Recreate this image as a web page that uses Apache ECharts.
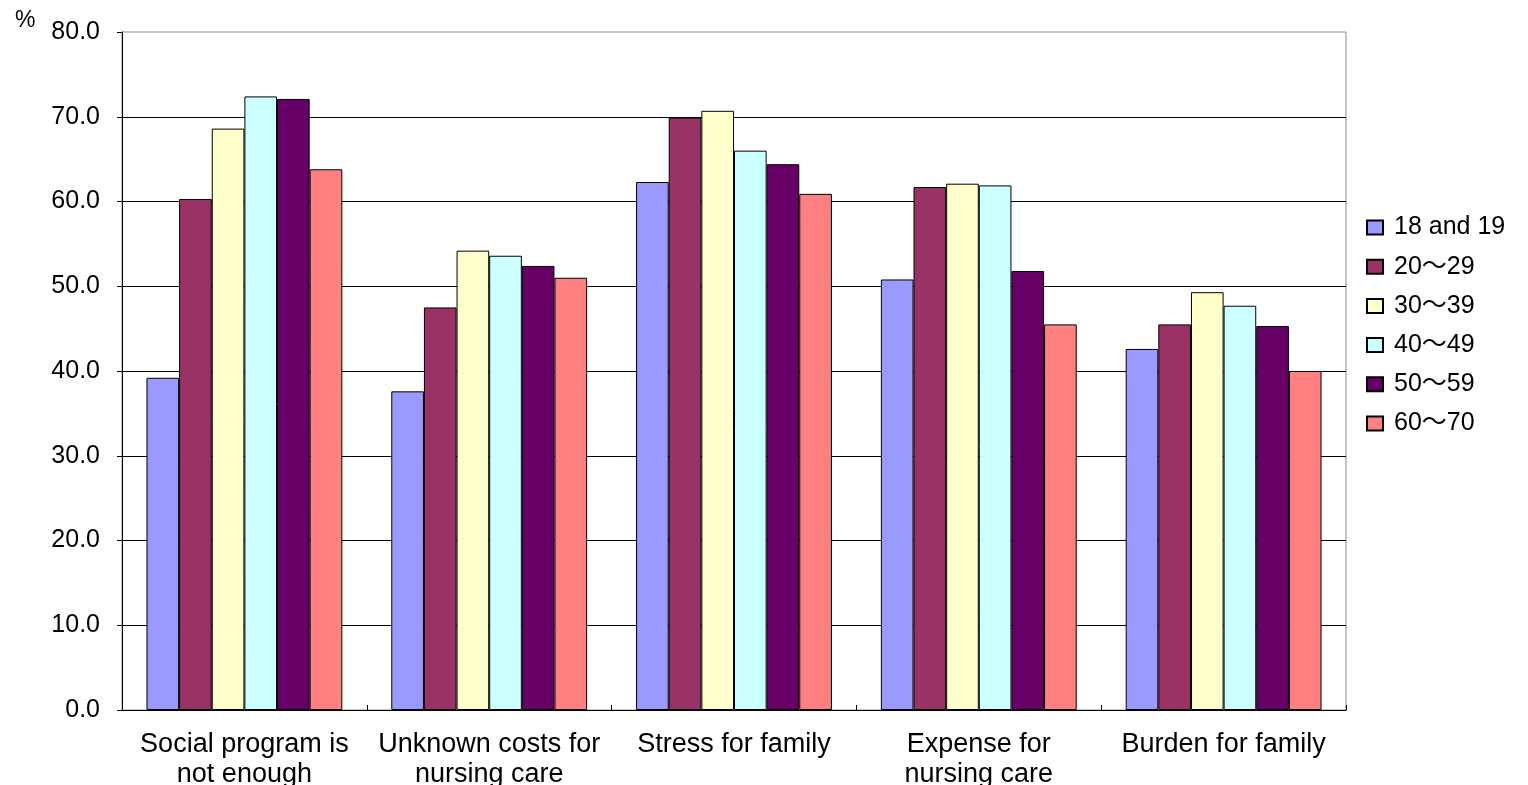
<!DOCTYPE html>
<html>
<head>
<meta charset="utf-8">
<title>Concerns about nursing care by age group</title>
<script src="https://cdn.jsdelivr.net/npm/echarts@6/dist/echarts.min.js"></script>
<style>
  html, body { margin: 0; padding: 0; background: #fff; }
  #chart { width: 1528px; height: 785px; }
</style>
</head>
<body>
<div id="chart"></div>
<script>
// Categories along the x axis
const categories = [
  'Social program is\nnot enough',
  'Unknown costs for\nnursing care',
  'Stress for family',
  'Expense for\nnursing care',
  'Burden for family'
];

// Age groups (series names)
const ageGroups = ['18 and 19', '20〜29', '30〜39', '40〜49', '50〜59', '60〜70'];

// Percentages for each age group, in category order
const age18to19 = [39.2, 37.6, 62.3, 50.8, 42.6];
const age20to29 = [60.3, 47.5, 69.9, 61.7, 45.5];
const age30to39 = [68.6, 54.2, 70.7, 62.1, 49.3];
const age40to49 = [72.4, 53.6, 66.0, 61.9, 47.7];
const age50to59 = [72.1, 52.4, 64.4, 51.8, 45.3];
const age60to70 = [63.8, 51.0, 60.9, 45.5, 40.0];

const seriesValues = [age18to19, age20to29, age30to39, age40to49, age50to59, age60to70];
const seriesColors = ['#9999FF', '#993366', '#FFFFCC', '#CCFFFF', '#660066', '#FF8080'];

const FONT = "'Liberation Sans', Arial, 'Noto Sans CJK JP', sans-serif";

const chart = echarts.init(document.getElementById('chart'), null, { renderer: 'canvas' });

chart.setOption({
  animation: false,
  backgroundColor: '#ffffff',
  textStyle: { fontFamily: FONT, color: '#000' },
  title: {
    text: '%',
    left: 10,
    top: 4,
    textStyle: { fontFamily: FONT, fontSize: 23, fontWeight: 'normal', color: '#000' }
  },
  grid: {
    left: 122,
    right: 182,
    top: 32,
    bottom: 75,
    containLabel: false,
    outerBoundsMode: 'none',
    show: true,
    borderColor: '#8a8a8a',
    borderWidth: 1,
    backgroundColor: 'transparent'
  },
  legend: {
    orient: 'vertical',
    left: 1361,
    top: 210,
    itemWidth: 16,
    itemHeight: 14,
    itemGap: 14.2,
    icon: 'rect',
    data: ageGroups,
    textStyle: {
      fontFamily: FONT,
      fontSize: 25,
      lineHeight: 25,
      color: '#000',
      padding: [0, 0, 0, 6]
    }
  },
  xAxis: {
    type: 'category',
    data: categories,
    axisLine: { show: true, lineStyle: { color: '#000', width: 1 } },
    axisTick: { show: true, inside: true, length: 5, lineStyle: { color: '#000' } },
    axisLabel: {
      fontFamily: FONT,
      fontSize: 27,
      lineHeight: 30,
      color: '#000',
      margin: 20,
      interval: 0
    },
    splitLine: { show: false }
  },
  yAxis: {
    type: 'value',
    min: 0,
    max: 80,
    interval: 10,
    axisLine: { show: true, lineStyle: { color: '#000', width: 1 } },
    axisTick: { show: true, inside: false, length: 5, lineStyle: { color: '#000' } },
    axisLabel: {
      fontFamily: FONT,
      fontSize: 25,
      color: '#000',
      margin: 22,
      formatter: v => v.toFixed(1)
    },
    splitLine: {
      show: true,
      showMaxLine: false,
      lineStyle: { color: '#000', width: 1 }
    }
  },
  series: ageGroups.map((name, i) => ({
    name: name,
    type: 'bar',
    data: seriesValues[i],
    barGap: '0%',
    barCategoryGap: '20%',
    itemStyle: {
      color: seriesColors[i],
      borderColor: '#000',
      borderWidth: 1
    },
    emphasis: { disabled: true }
  }))
});
</script>
</body>
</html>
